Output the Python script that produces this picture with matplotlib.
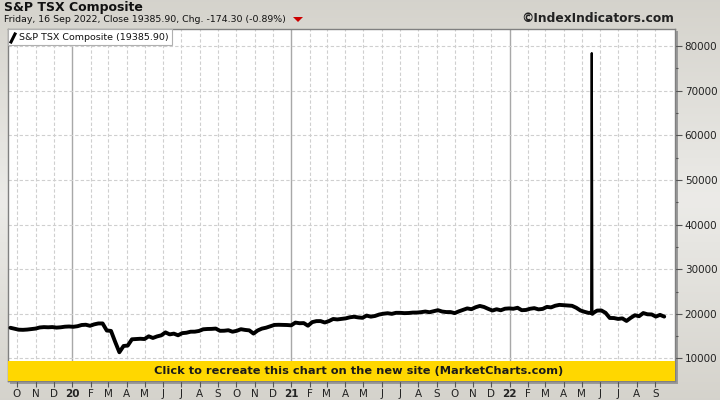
import numpy as np
import pandas as pd
import matplotlib
matplotlib.use("Agg")
import matplotlib.pyplot as plt
from matplotlib.patches import Rectangle, Polygon
from matplotlib.lines import Line2D

# ---------------- data (weekly values) ----------------
vals_2019 = [16880, 16660, 16450, 16420, 16480, 16600, 16700, 16950, 17030, 16990,
             17040, 16920, 16990, 17120, 17170]
vals_2020 = [17100, 17230, 17500, 17560, 17320,
             17650, 17850, 17850, 16260,
             16180, 13720, 11400, 12800,
             12900, 14300, 14350, 14420,
             14360, 14970, 14600, 14950, 15190,
             15850, 15400, 15570, 15200,
             15680, 15770, 16000, 16010, 16170,
             16540, 16610, 16630, 16700,
             16200, 16220, 16330, 16000,
             16200, 16560, 16400, 16300, 15580,
             16280, 16690, 16900, 17200,
             17520, 17550, 17530, 17500]
vals_2021 = [17430, 18040, 17900, 17930, 17340,
             18140, 18370, 18380, 18060,
             18380, 18850, 18750, 18860,
             18990, 19230, 19350, 19200, 19110,
             19610, 19370, 19530, 19850,
             20030, 20140, 20000, 20230,
             20230, 20160, 20190, 20280, 20290,
             20380, 20520, 20360, 20600,
             20820, 20520, 20400, 20400,
             20160, 20560, 20900, 21220, 21040,
             21480, 21770, 21540, 21120,
             20740, 21030, 20800, 21150, 21220]
vals_2022 = [21140, 21360, 20820, 20870,
             21140, 21280, 21000, 21110,
             21560, 21450, 21820, 22010,
             21950, 21870, 21800, 21370, 20760,
             20450, 20200, 20180, 20730,
             20760, 20230, 19080, 19060,
             18860, 18990, 18410, 19100, 19690,
             19470, 20180, 19900, 19870,
             19390, 19770, 19386]
weekly_vals = vals_2019 + vals_2020 + vals_2021 + vals_2022
weekly_dates = pd.date_range("2019-09-20", periods=len(weekly_vals), freq="W-FRI")

spike_dates = pd.to_datetime(["2022-05-17", "2022-05-18", "2022-05-19"])
spike_vals = [20300, 78400, 20000]

weekly = pd.Series(weekly_vals, index=weekly_dates)
spike = pd.Series(spike_vals, index=spike_dates)
base = pd.concat([weekly, spike.iloc[[0, 2]]]).sort_index()

y_ticks = [10000, 20000, 30000, 40000, 50000, 60000, 70000, 80000]
title = "S&P TSX Composite"
subtitle = "Friday, 16 Sep 2022, Close 19385.90, Chg. -174.30 (-0.89%)"
legend_label = "S&P TSX Composite (19385.90)"
site = "\u00a9IndexIndicators.com"
banner = "Click to recreate this chart on the new site (MarketCharts.com)"

# ---------------- figure ----------------
W, H = 720, 400
fig = plt.figure(figsize=(7.2, 4.0), dpi=100)

def fx(px):
    return px / W

def fy(py):
    return 1 - py / H

# background gradient
bg = fig.add_axes([0, 0, 1, 1], zorder=-10)
t = np.linspace(0, 1, 200)
shade = 1 - np.abs(t - 0.5) * 2
c1 = np.array([0.835, 0.827, 0.800])
c2 = np.array([0.925, 0.922, 0.910])
grad = c1[None, :] + (c2 - c1)[None, :] * shade[:, None]
bg.imshow(grad[:, None, :], aspect="auto", extent=[0, 1, 0, 1])
bg.set_axis_off()

# shadow behind plot
fig.patches.append(Rectangle((fx(10), fy(384)), fx(668), (384 - 31) / H,
                             transform=fig.transFigure, facecolor="#9a9a9a",
                             edgecolor="none", zorder=-5))

ax = fig.add_axes([fx(8), fy(381), fx(667), (381 - 29) / H])
ax.set_facecolor("white")

xmin = pd.Timestamp("2019-09-16")
xmax = pd.Timestamp("2022-10-04")
ax.set_xlim(xmin, xmax)
ax.set_ylim(4960, 83800)

# grid
months = pd.date_range("2019-10-01", "2022-09-01", freq="MS")
for m in months:
    if m.month == 1:
        ax.axvline(m, color="#a8a8a8", lw=1.0, zorder=1)
    else:
        ax.axvline(m, color="#cfcfcf", lw=0.8, ls=(0, (3, 2)), zorder=1)
for yv in y_ticks:
    ax.axhline(yv, color="#cfcfcf", lw=0.8, ls=(0, (3, 2)), zorder=1)

# data line
ax.plot(base.index, base.values, color="black", lw=2.8, zorder=3,
        solid_joinstyle="round", solid_capstyle="round")
ax.plot(spike.index, spike.values, color="black", lw=1.6, zorder=3,
        solid_joinstyle="round")

# banner
ax.add_patch(Rectangle((0, 0), 1, 20 / 352, transform=ax.transAxes,
                       facecolor="#ffd700", edgecolor="none", zorder=4))
ax.text((359 - 8) / 667, 10 / 352, banner, transform=ax.transAxes,
        ha="center", va="center", fontsize=8.2, fontweight="bold",
        color="#1a1a1a", zorder=5)

# ticks
ax.set_xticks(months)
labels = []
for m in months:
    labels.append(m.strftime("%y") if m.month == 1 else m.strftime("%b")[0])
ax.set_xticklabels(labels)
for lab, m in zip(ax.get_xticklabels(), months):
    if m.month == 1:
        lab.set_fontweight("bold")
ax.tick_params(axis="x", direction="out", length=4, width=0.8, color="#555555",
               labelsize=7.5, labelcolor="#222222", pad=2)

ax.yaxis.tick_right()
ax.set_yticks(y_ticks)
ax.set_yticklabels([str(v) for v in y_ticks])
ax.set_yticks([15000, 25000, 35000, 45000, 55000, 65000, 75000], minor=True)
ax.tick_params(axis="y", which="major", direction="out", length=5, width=0.8,
               color="#555555", labelsize=7.5, labelcolor="#222222", pad=2)
ax.tick_params(axis="y", which="minor", direction="out", length=2, width=0.8,
               color="#555555")

for s in ax.spines.values():
    s.set_color("#808080")
    s.set_linewidth(1.0)

# legend box
fig.patches.append(Rectangle((fx(8), fy(45)), fx(164), 16 / H,
                             transform=fig.transFigure, facecolor="white",
                             edgecolor="#b0b0b0", lw=0.8, zorder=10))
fig.lines.append(Line2D([fx(11), fx(15)], [fy(42), fy(34)],
                        transform=fig.transFigure, color="black", lw=2.2,
                        zorder=11))
fig.text(fx(19), fy(37), legend_label, fontsize=6.8, color="#111111",
         ha="left", va="center", zorder=11)

# titles
fig.text(fx(4), fy(8), title, fontsize=9.0, fontweight="bold",
         color="#111111", ha="left", va="center")
fig.text(fx(4), fy(19.5), subtitle, fontsize=6.75, color="#111111",
         ha="left", va="center")
fig.patches.append(Polygon([[fx(293), fy(17)], [fx(303), fy(17)],
                            [fx(298), fy(22)]], closed=True,
                           transform=fig.transFigure, facecolor="#cc0000",
                           edgecolor="none"))
fig.text(fx(674), fy(19), site, fontsize=8.85, fontweight="bold",
         color="#222222", ha="right", va="center")

fig.savefig("out.png", dpi=100)
